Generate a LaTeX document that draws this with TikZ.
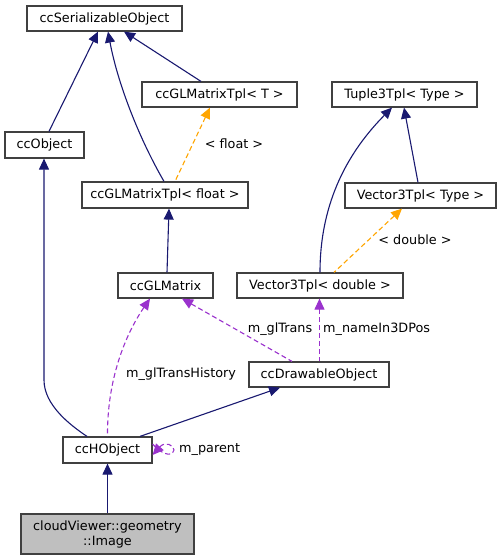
\documentclass[tikz,border=0pt]{standalone}
\usepackage{fontspec}
\setmainfont{DejaVu Sans}
\usetikzlibrary{arrows.meta}
\definecolor{inhc}{HTML}{191970}
\definecolor{tplc}{HTML}{FFA500}
\definecolor{usec}{HTML}{9A32CD}
\definecolor{boxc}{HTML}{404040}
\tikzset{
  cls/.style={draw=boxc, line width=1.2pt, fill=white, inner sep=0pt, font=\fontsize{12.8}{14}\selectfont, align=center},
  tip/.style={{Triangle[length=11pt,width=10pt]}-},
  inh/.style={draw=inhc, line width=1.1pt, tip, fill=none},
  tpl/.style={draw=tplc, line width=1.1pt, tip, dash pattern=on 5pt off 3pt},
  use/.style={draw=usec, line width=1.1pt, tip, dash pattern=on 5pt off 3pt},
  lbl/.style={font=\fontsize{12.8}{14}\selectfont, inner sep=0pt}
}
\begin{document}
\begin{tikzpicture}[x=1pt,y=-1pt]
\useasboundingbox (0,0) rectangle (501,560);
\node[cls, minimum width=155pt, minimum height=25pt] (ser) at (104.5,18.5) {ccSerializableObject};
\node[cls, minimum width=155pt, minimum height=25pt] (tplT) at (219.5,94.5) {ccGLMatrixTpl< T >};
\node[cls, minimum width=145pt, minimum height=25pt] (tuple) at (404.5,94.5) {Tuple3Tpl< Type >};
\node[cls, minimum width=79pt, minimum height=26pt] (obj) at (44.5,145) {ccObject};
\node[cls, minimum width=166pt, minimum height=26pt] (tplf) at (165,195) {ccGLMatrixTpl< float >};
\node[cls, minimum width=151pt, minimum height=25pt] (vecT) at (420.5,195.5) {Vector3Tpl< Type >};
\node[cls, minimum width=95pt, minimum height=25pt] (glm) at (165.5,285.5) {ccGLMatrix};
\node[cls, minimum width=166pt, minimum height=25pt] (vecd) at (320,285.5) {Vector3Tpl< double >};
\node[cls, minimum width=140pt, minimum height=25pt] (drw) at (319,374.5) {ccDrawableObject};
\node[cls, minimum width=89pt, minimum height=26pt] (hobj) at (107.5,450) {ccHObject};
\node[cls, fill={rgb,255:red,191;green,191;blue,191}, minimum width=173pt, minimum height=40pt, font=\fontsize{12.8}{15}\selectfont] (img) at (107.5,534) {cloudViewer::geometry\\::Image};

% inheritance
\draw[inh] ([xshift=-6.5pt]ser.south) -- ([xshift=4.5pt]obj.north);
\draw[inh] ([xshift=3.5pt]ser.south) .. controls (118,85) and (140,140) .. ([xshift=-1pt]tplf.north);
\draw[inh] ([xshift=19.5pt]ser.south) -- ([xshift=-18.5pt]tplT.north);
\draw[inh] ([xshift=-12.5pt]tuple.south) .. controls (350,150) and (320,200) .. (vecd.north);
\draw[inh] ([xshift=-0.5pt]tuple.south) -- ([xshift=-2.5pt]vecT.north);
\draw[inh] ([xshift=4pt]tplf.south) -- ([xshift=1.5pt]glm.north);
\draw[inh] ([xshift=-0.5pt]obj.south) -- (44,380) .. controls (44,405) and (70,425) .. ([xshift=-20.5pt]hobj.north);
\draw[inh] ([xshift=-39pt]drw.south) -- ([xshift=32.5pt]hobj.north);
\draw[inh] (hobj.south) -- (img.north);

% template
\draw[tpl] ([xshift=-9.5pt]tplT.south) -- ([xshift=10pt]tplf.north);
\node[lbl] (lf) at (234,144) {< float >};
\draw[tpl] ([xshift=-18.5pt]vecT.south) -- ([xshift=14pt]vecd.north);
\node[lbl] (ld) at (415,240) {< double >};

% usage
\draw[use] ([xshift=-15.5pt]glm.south) .. controls (125,335) and (107,380) .. (hobj.north);
\node[lbl] (l1) at (181,374) {m\_glTransHistory};
\draw[use] ([xshift=16.5pt]glm.south) -- ([xshift=-27pt]drw.north);
\node[lbl] (l2) at (280,329) {m\_glTrans};
\draw[use] ([xshift=-0.5pt]vecd.south) -- ([xshift=0.5pt]drw.north);
\node[lbl, anchor=west] (l3) at (323,329) {m\_nameIn3DPos};
\draw[use] ([yshift=-5pt]hobj.east) .. controls (165,441) and (174,445) .. (174,450) .. controls (174,455) and (165,458) .. ([yshift=6pt]hobj.east);
\node[lbl, anchor=west] (l4) at (179,450) {m\_parent};
\end{tikzpicture}
\end{document}
